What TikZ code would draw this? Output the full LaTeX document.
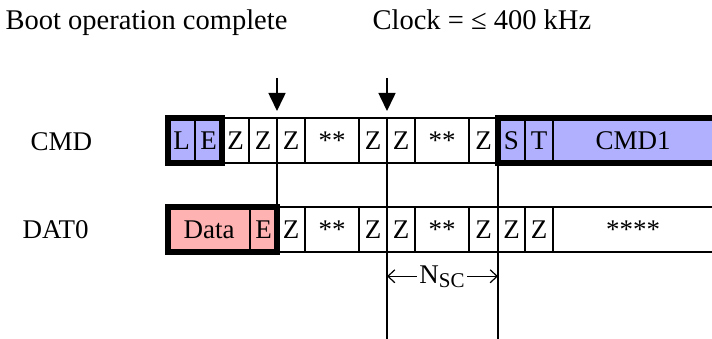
\documentclass[tikz,border=0pt]{standalone}
\usepackage{fontspec}
\setmainfont{Liberation Serif}
\usetikzlibrary{arrows.meta}
\definecolor{cmdblue}{RGB}{176,176,255}
\definecolor{datpink}{RGB}{255,178,178}

\begin{document}
\begin{tikzpicture}[x=1pt,y=-1pt,line width=1.3pt,
  every node/.style={inner sep=0pt,font=\fontsize{27}{32}\selectfont},
  toplabel/.style={anchor=base west,font=\fontsize{28.5}{34}\selectfont},
  cell/.style={draw,anchor=north west,outer sep=0pt,minimum height=45pt},
  grp/.style={draw,line width=5.5pt},
  bigarrow/.style={line width=1.6pt,-{Triangle[length=18pt,width=17pt]},shorten >=7pt},
  nscarrow/.style={line width=1.2pt,-{Straight Barb[length=7pt,width=13pt]}}]
\useasboundingbox (0,0) rectangle (712,339);
\fill[white] (0,0) rectangle (712,339);
\clip (0,0) rectangle (712,339);
\node[toplabel] (boot) at (5,30) {Boot operation complete};
\node[toplabel] (clk) at (372,30) {Clock = ≤ 400 kHz};
\node[anchor=base west] (lcmd) at (30,151) {CMD};
\node[anchor=base west] (ldat) at (22,238) {DAT0};
\node[cell,fill=cmdblue,minimum width=27pt] (cL) at (168,118) {L};
\node[cell,fill=cmdblue,minimum width=27pt] (cE) at (195,118) {E};
\node[cell,minimum width=27pt] (cz1) at (222,118) {Z};
\node[cell,minimum width=28pt] (cz2) at (249,118) {Z};
\node[cell,minimum width=28pt] (cz3) at (277,118) {Z};
\node[cell,minimum width=54pt] (cs1) at (305,118) {**};
\node[cell,minimum width=28pt] (cz4) at (359,118) {Z};
\node[cell,minimum width=28pt] (cz5) at (387,118) {Z};
\node[cell,minimum width=54pt] (cs2) at (415,118) {**};
\node[cell,minimum width=29pt] (cz6) at (469,118) {Z};
\node[cell,fill=cmdblue,minimum width=27pt] (cS) at (498,118) {S};
\node[cell,fill=cmdblue,minimum width=28pt] (cT) at (525,118) {T};
\node[cell,fill=cmdblue,minimum width=160pt] (cmd1) at (553,118) {CMD1};
\node[cell,fill=datpink,minimum width=82pt] (dData) at (168,207) {Data};
\node[cell,fill=datpink,minimum width=27pt] (dE) at (250,207) {E};
\node[cell,minimum width=28pt] (dz1) at (277,207) {Z};
\node[cell,minimum width=54pt] (ds1) at (305,207) {**};
\node[cell,minimum width=28pt] (dz2) at (359,207) {Z};
\node[cell,minimum width=28pt] (dz3) at (387,207) {Z};
\node[cell,minimum width=54pt] (ds2) at (415,207) {**};
\node[cell,minimum width=29pt] (dz4) at (469,207) {Z};
\node[cell,minimum width=27pt] (dz5) at (498,207) {Z};
\node[cell,minimum width=28pt] (dz6) at (525,207) {Z};
\node[cell,minimum width=160pt] (ds3) at (553,207) {****};
\draw[grp] (cL.north west) rectangle (cE.south east);
\draw[grp] (cS.north west) rectangle ([xshift=40pt]cmd1.south east);
\draw[grp] (dData.north west) rectangle (dE.south east);
\coordinate (a1) at (277,78);
\coordinate (a2) at (387,78);
\coordinate (bot1) at (387,339);
\coordinate (bot2) at (498,339);
\draw[bigarrow] (a1) -- (cz3.north west);
\draw[bigarrow] (a2) -- (cz5.north west);
\draw (cz3.south west) -- (dz1.north west);
\draw (cz5.south west) -- (bot1);
\draw (cS.south west) -- (bot2);
\node[anchor=base,inner sep=2pt] (nsc) at (442,283) {N\raisebox{-4pt}{\fontsize{21}{23}\selectfont SC}};
\draw[nscarrow] (nsc.west) -- (nsc.west -| bot1);
\draw[nscarrow] (nsc.east) -- (nsc.east -| bot2);
\end{tikzpicture}
\end{document}
